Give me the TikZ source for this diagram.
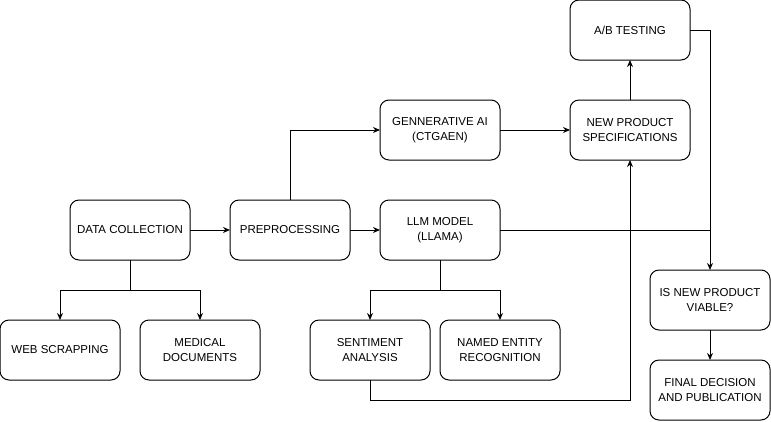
\documentclass[tikz,border=0pt]{standalone}
\usepackage{fontspec}
\setmainfont{Liberation Sans}
\usetikzlibrary{arrows.meta}
\usetikzlibrary{positioning}

\begin{document}
\begin{tikzpicture}[>={Stealth[length=7pt,width=6pt]},line width=1pt,
    box/.style={draw,rounded corners=9pt,align=center,minimum width=120pt,minimum height=60pt,inner sep=2pt,outer sep=0pt,font=\fontsize{11.5}{14.5}\selectfont}]
    \useasboundingbox (0,0) rectangle (771pt,-421pt);

    \node[box] (dc) at (130pt,-230pt) {DATA COLLECTION};
    \node[box, right =40pt of dc] (pre) {PREPROCESSING};
    \node[box, right =30pt of pre] (llm) {LLM MODEL\\(LLAMA)};
    \node[box, above =40pt of llm] (gen) {GENNERATIVE AI\\(CTGAEN)};
    \node[box, right =70pt of gen] (nps) {NEW PRODUCT\\SPECIFICATIONS};
    \node[box, above =40pt of nps] (ab) {A/B TESTING};

    \node[box, below =60pt of dc, xshift=-70pt] (web) {WEB SCRAPPING};
    \node[box, right =20pt of web] (med) {MEDICAL\\DOCUMENTS};

    \node[box, below =60pt of llm, xshift=-70pt] (sa) {SENTIMENT\\ANALYSIS};
    \node[box, right =10pt of sa] (ner) {NAMED ENTITY\\RECOGNITION};

    \node[box, right =150pt of llm, yshift=-70pt] (via) {IS NEW PRODUCT\\VIABLE?};
    \node[box, below =30pt of via] (fin) {FINAL DECISION\\AND PUBLICATION};

    \draw[->] (dc) -- (pre);
    \draw[->] (dc.south) -- ++(0,-30pt) -| (web);
    \draw[->] (dc.south) -- ++(0,-30pt) -| (med);

    \draw[->] (pre) -- (llm);
    \draw[->] (pre.north) |- (gen);
    \draw[->] (gen) -- (nps);
    \draw[->] (nps) -- (ab);

    \draw[->] (ab.east) -| (via.north);
    \draw (llm.east) -- (llm.east -| via.north);

    \draw[->] (llm.south) -- ++(0,-30pt) -| (sa);
    \draw[->] (llm.south) -- ++(0,-30pt) -| (ner);
    \draw[->] (sa.south) -- ++(0,-20pt) -| (nps.south);

    \draw[->] (via) -- (fin);

\end{tikzpicture}
\end{document}
